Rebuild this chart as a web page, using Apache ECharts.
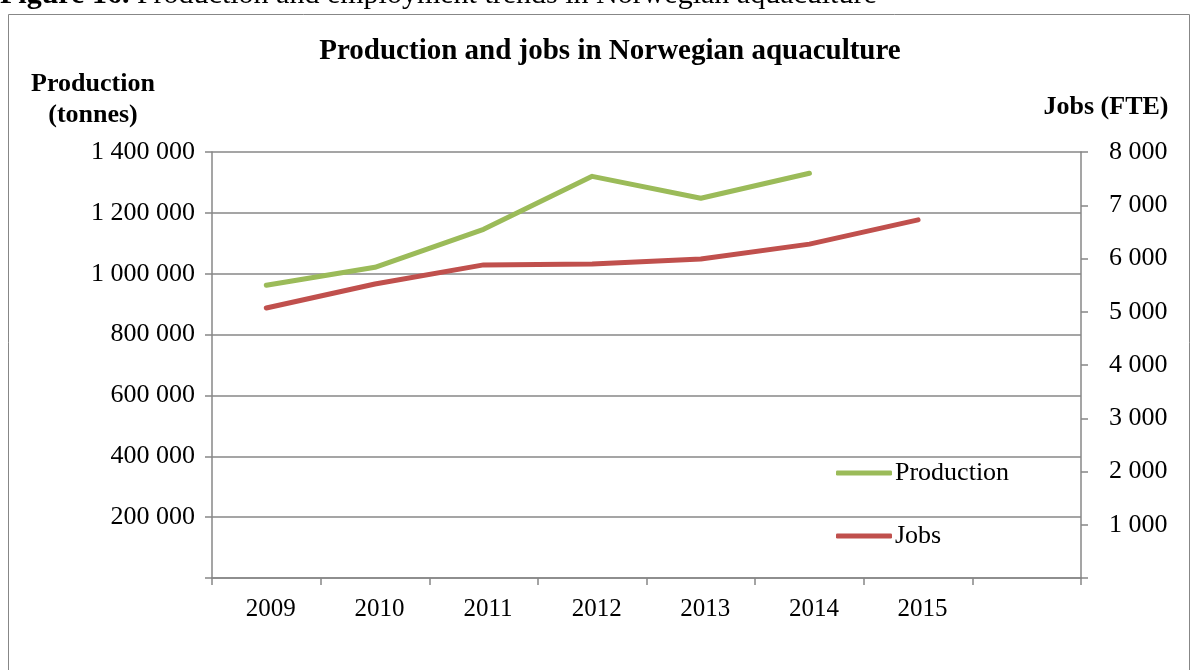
<!DOCTYPE html>
<html><head><meta charset="utf-8">
<script src="https://cdn.jsdelivr.net/npm/echarts@6/dist/echarts.min.js"></script>
<style>html,body{margin:0;padding:0;background:#fff}#c{width:1198px;height:670px}</style>
</head><body><div id="c"></div>
<script>
const years = ['2009','2010','2011','2012','2013','2014','2015',''];
const production = [962000, 1021000, 1146000, 1320000, 1248000, 1330000, null, null];
const jobs = [5070, 5520, 5880, 5895, 5990, 6270, 6725, null];
const leftTicks = {min: 0, max: 1400000, interval: 200000};
const rightTicks = {min: 0, max: 8000, interval: 1000};

const FONT = '"Liberation Serif", "Times New Roman", serif';
const fmt = v => v === 0 ? '' : String(v).replace(/\B(?=(\d{3})+(?!\d))/g, ' ');
const GRAY = '#878787';

const chart = echarts.init(document.getElementById('c'));
chart.setOption({
  animation: false,
  textStyle: {fontFamily: FONT, color: '#000'},
  grid: {left: 212, right: 117, top: 152, bottom: 92},
  graphic: [
    {type: 'rect', shape: {x: 8.5, y: 14.5, width: 1181, height: 700}, style: {fill: 'none', stroke: GRAY, lineWidth: 1}},
    {type: 'text', x: 0, y: -20, style: {rich: {b: {fontWeight: 'bold', fontSize: 30, fontFamily: FONT}, n: {fontSize: 30, fontFamily: FONT}}, text: '{b|Figure 16. }{n|Production and employment trends in Norwegian aquaculture}', fill: '#000'}},
    {type: 'text', x: 610, y: 52, style: {text: 'Production and jobs in Norwegian aquaculture', font: 'bold 29px ' + FONT, fill: '#000', align: 'center', verticalAlign: 'middle'}},
    {type: 'text', x: 93, y: 100, style: {text: 'Production\n(tonnes)', font: 'bold 26px ' + FONT, lineHeight: 31, fill: '#000', align: 'center', verticalAlign: 'middle'}},
    {type: 'text', x: 1106, y: 107, style: {text: 'Jobs (FTE)', font: 'bold 26px ' + FONT, fill: '#000', align: 'center', verticalAlign: 'middle'}}
  ],
  legend: {
    orient: 'vertical', left: 836, top: 460, itemGap: 37, padding: 0,
    itemWidth: 56, itemHeight: 5, icon: 'roundRect',
    textStyle: {fontFamily: FONT, fontSize: 26, color: '#000', padding: [0,0,0,-2]},
    data: ['Production', 'Jobs']
  },
  xAxis: {
    type: 'category', data: years, boundaryGap: true,
    axisLine: {lineStyle: {color: GRAY, width: 1.5}},
    axisTick: {show: true, length: 7, lineStyle: {color: GRAY, width: 1.5}, alignWithLabel: false},
    axisLabel: {fontFamily: FONT, fontSize: 25, color: '#000', margin: 19, padding: [0,0,0,9]}
  },
  yAxis: [
    {type: 'value', min: leftTicks.min, max: leftTicks.max, interval: leftTicks.interval,
      axisLine: {show: true, lineStyle: {color: GRAY, width: 1.5}},
      axisTick: {show: true, length: 7, lineStyle: {color: GRAY, width: 1.5}},
      splitLine: {show: true, lineStyle: {color: GRAY, width: 1.5}},
      axisLabel: {fontFamily: FONT, fontSize: 26, color: '#000', margin: 17, formatter: fmt}},
    {type: 'value', min: rightTicks.min, max: rightTicks.max, interval: rightTicks.interval, position: 'right',
      axisLine: {show: true, lineStyle: {color: GRAY, width: 1.5}},
      axisTick: {show: true, length: 7, lineStyle: {color: GRAY, width: 1.5}},
      splitLine: {show: false},
      axisLabel: {fontFamily: FONT, fontSize: 26, color: '#000', margin: 28, formatter: fmt}}
  ],
  series: [
    {name: 'Production', type: 'line', yAxisIndex: 0, data: production, showSymbol: false, symbol: 'none',
      lineStyle: {color: '#9BBB59', width: 5, cap: 'round', join: 'round'}, itemStyle: {color: '#9BBB59'}},
    {name: 'Jobs', type: 'line', yAxisIndex: 1, data: jobs, showSymbol: false, symbol: 'none',
      lineStyle: {color: '#C0504D', width: 5, cap: 'round', join: 'round'}, itemStyle: {color: '#C0504D'}}
  ]
});
</script></body></html>
